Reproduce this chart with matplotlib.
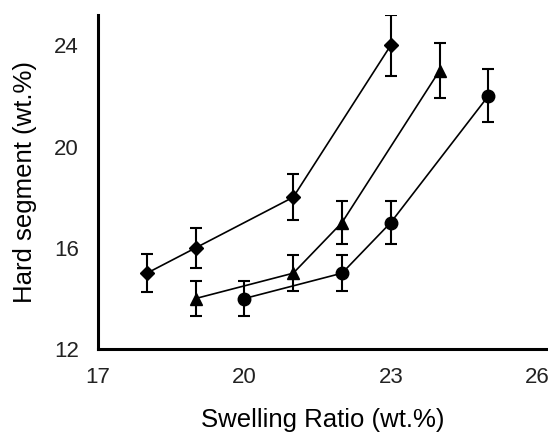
import numpy as np
import matplotlib.pyplot as plt

plt.rcParams['font.family'] = ['Liberation Sans', 'DejaVu Sans']

# diamond series
x_dia = [18, 19, 21, 23]
y_dia = [15, 16, 18, 24]
e_dia = [0.75, 0.8, 0.9, 1.2]

# triangle series
x_tri = [19, 21, 22, 24]
y_tri = [14, 15, 17, 23]
e_tri = [0.7, 0.7, 0.85, 1.1]

# circle series
x_cir = [20, 22, 23, 25]
y_cir = [14, 15, 17, 22]
e_cir = [0.7, 0.7, 0.85, 1.05]

xticks = [17, 20, 23, 26]
yticks = [12, 16, 20, 24]

fig = plt.figure(figsize=(5.48, 4.37), dpi=100)
ax = fig.add_axes([0.179, 0.201, 0.819, 0.765])

for xs, ys, es, m, ms in [(x_dia, y_dia, e_dia, 'D', 7.5),
                          (x_tri, y_tri, e_tri, '^', 9),
                          (x_cir, y_cir, e_cir, 'o', 9)]:
    ax.errorbar(xs, ys, yerr=es, fmt=m + '-', color='black', ms=ms,
                lw=1.2, elinewidth=1.5, capsize=4, capthick=1.5)

ax.set_xlim(17, 26.2)
ax.set_ylim(12, 25.2)
ax.set_xticks(xticks)
ax.set_yticks(yticks)
ax.tick_params(length=0, labelsize=16, colors='#222222')
ax.tick_params(axis='x', pad=13)
ax.tick_params(axis='y', pad=14)
for s in ['top', 'right']:
    ax.spines[s].set_visible(False)
for s in ['left', 'bottom']:
    ax.spines[s].set_linewidth(2.2)
ax.set_xlabel('Swelling Ratio (wt.%)', fontsize=18.5, labelpad=14)
ax.set_ylabel('Hard segment (wt.%)', fontsize=18.5, labelpad=12)

fig.savefig('out.png', dpi=100)
